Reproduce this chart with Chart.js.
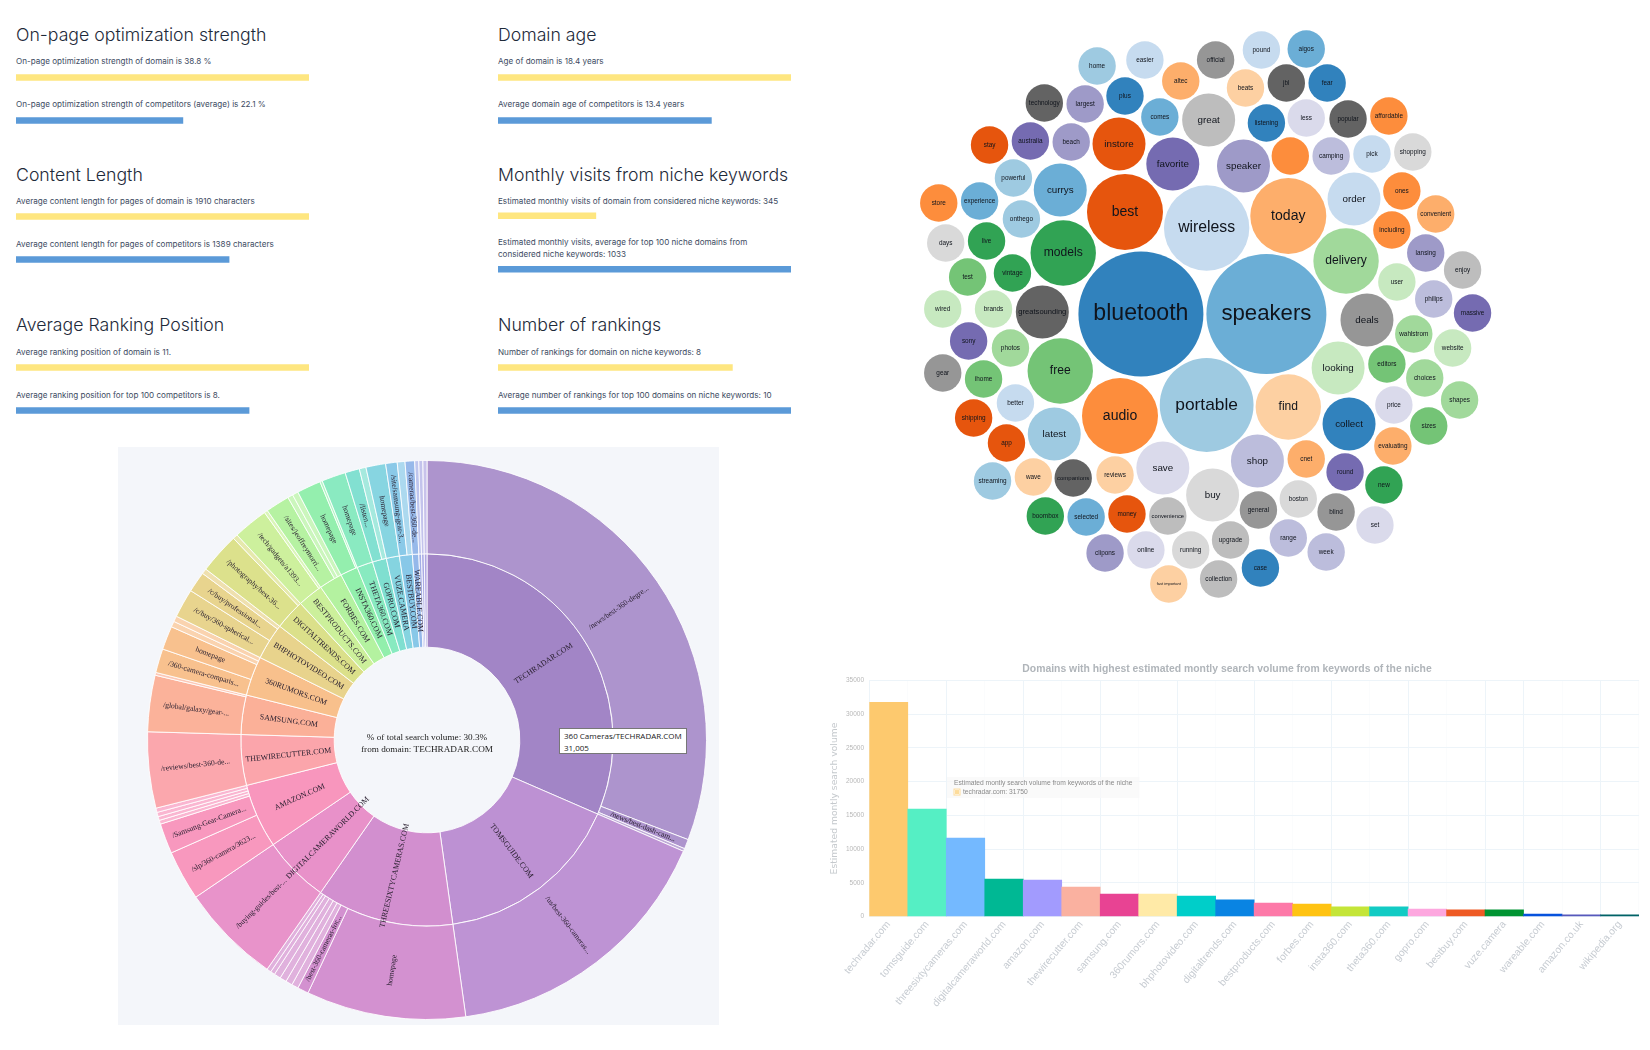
<!DOCTYPE html>
<html>
<head>
<meta charset="utf-8">
<script src="https://cdn.jsdelivr.net/npm/chart.js@4"></script>
<style>
  html, body { margin: 0; padding: 0; background: #fff; }
  #page { position: relative; width: 1650px; height: 1050px; overflow: hidden; }
  canvas { position: absolute; }
  .t { position: absolute; white-space: nowrap; font-family: Inter, sans-serif; }
  .h { font-size: 17.7px; font-weight: 300; color: #1e2a3a; }
  .s { font-size: 8.1px; line-height: 12px; color: #3d4b62; }
  .tip { width: 122px; height: 23px; padding: 1px 0 0 4px; background: #fff; border: 1px solid #777;
         font: 8px/11.5px "Open Sans", sans-serif; color: #222; }
  #sunbg { position: absolute; left: 118px; top: 447px; width: 601px; height: 578px; background: #f4f6fa; }
</style>
</head>
<body>
<div id="page">
  <div id="sunbg"></div>
</div>
<script>
Chart.defaults.animation = false;
Chart.defaults.responsive = false;
Chart.defaults.plugins.legend.display = false;

var page = document.getElementById('page');

/* ---------- metric panels ---------- */
var metricTitles = ['On-page optimization strength', 'Domain age', 'Content Length',
  'Monthly visits from niche keywords', 'Average Ranking Position', 'Number of rankings'];
var domainText = ['On-page optimization strength of domain is 38.8 %', 'Age of domain is 18.4 years',
  'Average content length for pages of domain is 1910 characters',
  'Estimated monthly visits of domain from considered niche keywords: 345',
  'Average ranking position of domain is 11.', 'Number of rankings for domain on niche keywords: 8'];
var peerText = ['On-page optimization strength of competitors (average) is 22.1 %',
  'Average domain age of competitors is 13.4 years',
  'Average content length for pages of competitors is 1389 characters',
  'Estimated monthly visits, average for top 100 niche domains from<br>considered niche keywords: 1033',
  'Average ranking position for top 100 competitors is 8.',
  'Average number of rankings for top 100 domains on niche keywords: 10'];
var domainValues = [38.8, 18.4, 1910, 345, 11, 8];
var peerValues = [22.1, 13.4, 1389, 1033, 8.75, 10];

function addText(cls, x, y, html) {
  var d = document.createElement('div');
  d.className = 't ' + cls;
  d.style.left = x + 'px';
  d.style.top = y + 'px';
  d.innerHTML = html;
  page.appendChild(d);
}

function addCanvas(x, y, w, h) {
  var c = document.createElement('canvas');
  c.width = w;
  c.height = h;
  c.style.left = x + 'px';
  c.style.top = y + 'px';
  page.appendChild(c);
  return c;
}

var panelX = [16, 498];
var panelY = [26, 165, 316];
var titleY = [24, 164, 314];
var textY = [30, 31, 31];
metricTitles.forEach(function (title, i) {
  var row = Math.floor(i / 2);
  var x = panelX[i % 2], y = panelY[row];
  var tall = i === 3;
  addText('h', x, titleY[row], title);
  addText('s', x, y + textY[row] - 1, domainText[i]);
  addText('s', x, y + (tall ? 71 : textY[row] + 42), peerText[i]);
  new Chart(addCanvas(x, y + (tall ? 24 : 29.5), 293, tall ? 107 : 86), {
    type: 'bar',
    data: {
      labels: ['domain', 'competitors'],
      datasets: [{
        data: [domainValues[i], peerValues[i]],
        backgroundColor: ['#fee680', '#5b9ad8'],
        barThickness: 6
      }]
    },
    options: {
      indexAxis: 'y',
      layout: { padding: 0 },
      plugins: { tooltip: { enabled: false } },
      scales: {
        x: { display: false, min: 0, max: Math.max(domainValues[i], peerValues[i]) },
        y: { display: false }
      }
    }
  });
});

/* ---------- keyword bubbles ---------- */
var bubbleWords = ['home','easier','official','pound','aigos','altec','beats','jbl','fear','plus','largest','technology','comes','great','listening','less','popular','affordable','stay','australia','beach','instore','favorite','speaker','','camping','pick','shopping','powerful','currys','store','experience','onthego','best','wireless','today','order','ones','convenient','including','days','live','models','delivery','lansing','enjoy','test','vintage','user','philips','wired','brands','greatsounding','bluetooth','speakers','massive','deals','sony','photos','wahlstrom','website','free','looking','editors','choices','gear','ihome','better','portable','find','price','shapes','shipping','audio','latest','app','collect','sizes','evaluating','streaming','wave','companions','reviews','save','shop','cnet','round','new','buy','boston','general','blind','set','boombox','selected','money','convenience','upgrade','range','week','clipons','online','running','case','collection','fast important'];
var bubbleX = [218,266,337,383,428,302,367,408,449,246,206,165,281,330,388,428,470,511,110,151,192,240,294,365,412,453,494,535,134,181,59,100,142,246,328,410,476,524,558,514,66,107,184,468,548,585,88,133,519,556,63,114,163,262,388,595,489,89,131,536,575,181,460,509,547,63,104,136,328,410,516,582,94,241,175,127,471,551,515,113,154,194,236,284,379,428,467,506,334,420,380,458,497,166,207,248,289,352,410,448,226,267,312,382,340,290];
var bubbleY = [66,60,60,50,49,81,88,83,83,96,104,103,117,120,123,118,119,116,145,141,142,144,164,166,156,156,154,152,178,190,203,201,219,212,228,216,199,191,214,230,243,241,253,261,253,270,277,273,282,299,309,309,312,314,314,313,320,341,348,334,348,371,368,364,378,373,379,403,405,407,405,400,418,416,434,443,424,426,446,481,477,478,475,468,461,459,472,485,495,499,510,512,525,516,517,514,516,540,538,552,553,550,550,568,579,584];
var bubbleSize = [18.7,18.7,18.7,18.7,18.7,18.7,18.7,18.7,18.7,18.7,18.7,18.7,18.7,26.5,18.7,18.7,18.7,18.7,18.7,18.7,18.7,26.5,26.5,26.5,18.7,18.7,18.7,18.7,18.7,26.5,18.7,18.7,18.7,38,42.7,38,26.5,18.7,18.7,18.7,18.7,18.7,32.7,32.7,18.7,18.7,18.7,18.7,18.7,18.7,18.7,18.7,26.5,62.5,60,18.7,26.5,18.7,18.7,18.7,18.7,32.7,26.5,18.7,18.7,18.7,18.7,18.7,46.9,32.7,18.7,18.7,18.7,38,26.5,18.7,26.5,18.7,18.7,18.7,18.7,18.7,18.7,26.5,26.5,18.7,18.7,18.7,26.5,18.7,18.7,18.7,18.7,18.7,18.7,18.7,18.7,18.7,18.7,18.7,18.7,18.7,18.7,18.7,18.7,18.7];
var bubbleColors = ['#9ecae1','#c6dbef','#969696','#c6dbef','#6baed6','#fdae6b','#fdd0a2','#636363','#3182bd','#3182bd','#9e9ac8','#636363','#6baed6','#bdbdbd','#3182bd','#dadaeb','#636363','#fd8d3c','#e6550d','#756bb1','#9e9ac8','#e6550d','#756bb1','#9e9ac8','#fd8d3c','#bcbddc','#c6dbef','#d9d9d9','#9ecae1','#6baed6','#fd8d3c','#6baed6','#9ecae1','#e6550d','#c6dbef','#fdae6b','#c6dbef','#fd8d3c','#fdae6b','#fd8d3c','#d9d9d9','#31a354','#31a354','#a1d99b','#9e9ac8','#bdbdbd','#74c476','#31a354','#c7e9c0','#bcbddc','#c7e9c0','#c7e9c0','#636363','#3182bd','#6baed6','#756bb1','#969696','#756bb1','#a1d99b','#a1d99b','#c7e9c0','#74c476','#c7e9c0','#74c476','#a1d99b','#969696','#74c476','#c6dbef','#9ecae1','#fdd0a2','#dadaeb','#a1d99b','#e6550d','#fd8d3c','#9ecae1','#e6550d','#3182bd','#74c476','#fdae6b','#9ecae1','#fdd0a2','#636363','#fdd0a2','#dadaeb','#bcbddc','#fdae6b','#756bb1','#31a354','#d9d9d9','#d9d9d9','#969696','#969696','#dadaeb','#31a354','#6baed6','#e6550d','#bdbdbd','#bdbdbd','#bcbddc','#bcbddc','#9e9ac8','#dadaeb','#d9d9d9','#3182bd','#bdbdbd','#fdd0a2'];

var bubbleLabels = {
  id: 'bubbleLabels',
  afterDatasetsDraw: function (chart) {
    var ctx = chart.ctx;
    ctx.save();
    ctx.textAlign = 'center';
    ctx.textBaseline = 'middle';
    ctx.fillStyle = '#10141c';
    chart.getDatasetMeta(0).data.forEach(function (pt, i) {
      var r = bubbleSize[i], word = bubbleWords[i];
      var size = r < 20 ? 6.4 : r * 0.37;
      ctx.font = size + 'px "Liberation Sans"';
      var w = ctx.measureText(word).width;
      if (w > 2 * r - 5) {
        size = size * (2 * r - 5) / w;
        ctx.font = size + 'px "Liberation Sans"';
      }
      if (word === 'fast important') ctx.font = '4px "Liberation Sans"';
      ctx.fillText(word, pt.x, pt.y);
    });
    ctx.restore();
  }
};

new Chart(addCanvas(880, 0, 650, 620), {
  type: 'bubble',
  data: {
    datasets: [{
      data: bubbleWords.map(function (w, i) { return { x: bubbleX[i], y: bubbleY[i], r: bubbleSize[i] }; }),
      backgroundColor: bubbleColors,
      borderWidth: 0
    }]
  },
  options: {
    layout: { padding: 0, autoPadding: false },
    plugins: { tooltip: { enabled: false } },
    scales: {
      x: { display: false, min: 0, max: 652.7 },
      y: { display: false, min: 0, max: 620, reverse: true }
    }
  },
  plugins: [bubbleLabels]
});

/* ---------- search volume sunburst ---------- */
var domainNames = ['TECHRADAR.COM','TOMSGUIDE.COM','THREESIXTYCAMERAS.COM','DIGITALCAMERAWORLD.COM','AMAZON.COM','THEWIRECUTTER.COM','SAMSUNG.COM','360RUMORS.COM','BHPHOTOVIDEO.COM','DIGITALTRENDS.COM','BESTPRODUCTS.COM','FORBES.COM','INSTA360.COM','THETA360.COM','GOPRO.COM','VUZE.CAMERA','BESTBUY.COM','WAREABLE.COM','AMAZON.CO.UK','WIKIPEDIA.ORG','OTHER'];
var domainVolume = [31005,16000,11720,5710,5490,4320,3360,3360,3115,2595,2185,2000,1500,1365,1200,1120,1095,545,230,230,230];
var domainColors = ['#a285c6','#bd91d3','#d28fcf','#e891c9','#f896bd','#fba5ab','#fbb098','#f8c08c','#e8d38c','#dbe08a','#ccf09b','#b4f2a0','#92efac','#88eac0','#7fdfd0','#85d4e0','#88c8e8','#95b8ea','#a3aee6','#a9a9e4','#b0a8e2'];

var pageNames = ['/news/best-360-degre...','/news/best-dash-cam...','','/us/best-360-cameras...','homepage','/best-360-cameras-for...','','','','','','','/buying-guides/best-...','/slp/360-camera/3623...','/Samsung-Gear-Camera...','','','','','/reviews/best-360-de...','/global/galaxy/gear-...','','/360-camera-comparis...','homepage','','','/c/buy/360-spherical...','/c/buy/professional...','','/photography/best-36...','','/tech/gadgets/a1393...','','/sites/jeoffreymorri...','','','homepage','','homepage','/listen...','','homepage','/site/samsung-gear-3...','','/cameras/best-360-de...','','',''];
var pageDomain = [0,0,0,1,2,2,2,2,2,2,2,2,3,4,4,4,4,4,4,5,6,6,7,7,7,7,8,8,8,9,9,10,10,11,11,11,12,12,13,14,14,15,16,16,17,18,19,20];
var pageVolume = [30300,545,160,16000,9070,630,380,380,380,380,250,250,5710,2840,1720,220,220,245,245,4320,3200,160,1365,1340,330,325,1640,1175,300,2320,275,1990,195,1365,300,335,1365,135,1365,820,380,1120,655,440,545,230,230,230];

function lighten(hex, amt) {
  var n = parseInt(hex.slice(1), 16);
  var c = [n >> 16, (n >> 8) & 255, n & 255].map(function (v) { return Math.round(v + (255 - v) * amt); });
  return 'rgb(' + c.join(',') + ')';
}

function radialLabel(ctx, arc, text) {
  var p = arc.getProps(['x', 'y', 'startAngle', 'endAngle', 'innerRadius', 'outerRadius']);
  var a = (p.startAngle + p.endAngle) / 2;
  var mid = (p.innerRadius + p.outerRadius) / 2;
  ctx.save();
  ctx.translate(p.x + Math.cos(a) * mid, p.y + Math.sin(a) * mid);
  ctx.rotate(Math.cos(a) < 0 ? a + Math.PI : a);
  ctx.fillText(text, 0, 0);
  ctx.restore();
}

var sunburstLabels = {
  id: 'sunburstLabels',
  afterDatasetsDraw: function (chart) {
    var ctx = chart.ctx;
    ctx.save();
    ctx.textAlign = 'center';
    ctx.textBaseline = 'middle';
    ctx.fillStyle = '#2a2030';
    ctx.font = '7.6px "Liberation Serif"';
    chart.getDatasetMeta(0).data.forEach(function (arc, i) {
      if (pageNames[i]) radialLabel(ctx, arc, pageNames[i]);
    });
    ctx.font = '7.9px "Liberation Serif"';
    chart.getDatasetMeta(1).data.forEach(function (arc, i) {
      if (i < 18) radialLabel(ctx, arc, domainNames[i]);
    });
    var cx = chart.getDatasetMeta(1).data[0].x, cy = chart.getDatasetMeta(1).data[0].y;
    ctx.fillStyle = '#222';
    ctx.font = '9.2px "Liberation Serif"';
    ctx.fillText('% of total search volume: 30.3%', cx, cy - 2.5);
    ctx.fillText('from domain: TECHRADAR.COM', cx, cy + 10);
    ctx.restore();
  }
};

new Chart(addCanvas(146.5, 460, 560, 560), {
  type: 'doughnut',
  data: {
    labels: pageNames,
    datasets: [
      {
        data: pageVolume,
        backgroundColor: pageDomain.map(function (d, i) {
          if (!pageNames[i]) return lighten(domainColors[d], 0.3);
          return lighten(domainColors[d], d === 0 ? 0.12 : 0.02);
        }),
        borderColor: 'rgba(255,255,255,0.85)',
        borderWidth: 1
      },
      {
        data: domainVolume,
        backgroundColor: domainColors,
        borderColor: 'rgba(255,255,255,0.85)',
        borderWidth: 1
      }
    ]
  },
  options: {
    cutout: '33.2%',
    layout: { padding: 0 },
    plugins: { tooltip: { enabled: false } }
  },
  plugins: [sunburstLabels]
});

addText('tip', 559, 728, '360 Cameras/TECHRADAR.COM<br>31,005');

/* ---------- estimated volume bars ---------- */
var barDomains = ['techradar.com','tomsguide.com','threesixtycameras.com','digitalcameraworld.com','amazon.com','thewirecutter.com','samsung.com','360rumors.com','bhphotovideo.com','digitaltrends.com','bestproducts.com','forbes.com','insta360.com','theta360.com','gopro.com','bestbuy.com','vuze.camera','wareable.com','amazon.co.uk','wikipedia.org'];
var barVolume = [31750,15920,11640,5570,5420,4390,3350,3330,3060,2470,2020,1870,1430,1430,1130,990,990,390,250,250];
var barColors = ['#fdc96e','#55efc4','#74b9ff','#00b894','#a29bfe','#fab1a0','#e84393','#ffeaa7','#00cec9','#0984e3','#fd79a8','#ffc312','#c4e538','#12cbc4','#fda7df','#ee5a24','#009432','#0652dd','#5758bb','#006266'];
var tickLabels = ['0','5000','10000','15000','20000','25000','30000','35000'];

Chart.Tooltip.positioners.barBox = function () { return { x: 132, y: 127 }; };

var bars = new Chart(addCanvas(815, 650, 835, 400), {
  type: 'bar',
  data: {
    labels: barDomains,
    datasets: [{
      label: 'Estimated montly search volume from keywords of the niche',
      data: barVolume,
      backgroundColor: barColors,
      barPercentage: 1,
      categoryPercentage: 1
    }]
  },
  options: {
    layout: { padding: { right: 11 } },
    plugins: {
      title: {
        display: true,
        text: 'Domains with highest estimated montly search volume from keywords of the niche',
        color: '#b0b5ba',
        font: { family: 'Liberation Sans', size: 10.4, weight: 'bold' },
        padding: { top: 13, bottom: 5 }
      },
      tooltip: {
        enabled: true,
        position: 'barBox',
        xAlign: 'left',
        yAlign: 'top',
        caretSize: 0,
        caretPadding: 0,
        cornerRadius: 0,
        backgroundColor: 'rgba(248,248,248,0.75)',
        titleColor: '#8a8a8a',
        bodyColor: '#8a8a8a',
        titleFont: { family: 'Liberation Sans', size: 6.7, weight: 'normal' },
        bodyFont: { family: 'Liberation Sans', size: 6.7 },
        titleMarginBottom: 1,
        padding: { x: 7, y: 2 },
        boxWidth: 6,
        boxHeight: 6,
        boxPadding: 1,
        callbacks: {
          labelColor: function () { return { backgroundColor: '#fddc9b', borderColor: '#fddc9b' }; },
          title: function () { return 'Estimated montly search volume from keywords of the niche'; },
          label: function (c) { return c.label + ': ' + c.raw; }
        }
      }
    },
    scales: {
      x: {
        afterFit: function (s) { s.height = 133.4; },
        grid: {
          offset: true,
          drawTicks: false,
          color: function (c) {
            var strong = c.index <= 16 ? c.index % 2 === 0 : c.index % 2 === 1;
            return strong ? '#edf4f9' : '#fbfcfd';
          }
        },
        border: { display: false },
        ticks: {
          minRotation: 50,
          maxRotation: 50,
          autoSkip: false,
          padding: 2,
          color: '#c7ccd2',
          font: { family: 'Liberation Sans', size: 10.3 }
        }
      },
      y: {
        min: 0,
        max: 35000,
        afterFit: function (s) { s.width = 54.3; },
        grid: { color: '#edf4f9', drawTicks: false },
        border: { display: false },
        title: {
          display: true,
          text: 'Estimated montly search volume',
          color: '#c5c9cd',
          font: { family: 'DejaVu Sans', size: 9.2 },
          padding: { top: 14, bottom: 0 }
        },
        ticks: {
          stepSize: 5000,
          color: '#b8b8b8',
          font: { family: 'Liberation Sans', size: 6.5 },
          padding: 5.3,
          callback: function (v, i) { return tickLabels[i]; }
        }
      }
    }
  }
});
bars.tooltip.setActiveElements([{ datasetIndex: 0, index: 0 }], { x: 0, y: 0 });
bars.update();
</script>
</body>
</html>
